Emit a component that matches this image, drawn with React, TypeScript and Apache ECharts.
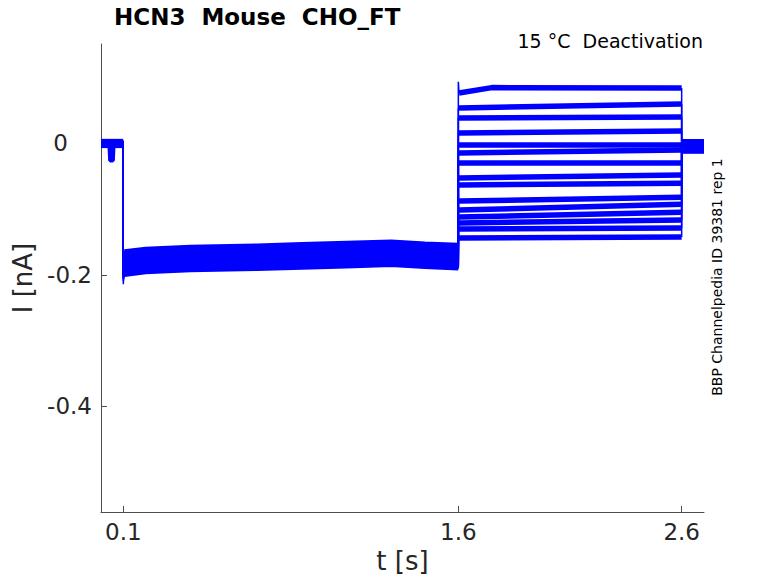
import React, { useEffect, useRef } from "react";
import * as echarts from "echarts";

// ---- data ----
const xTicks = [0.1, 1.6, 2.6];
const yTicks = [-0.4, -0.2, 0];

// baseline before the first step (t < 0.1), one value per sweep
const preLevels = [0.003, -0.002, 0.001, -0.004, 0.002, 0.004, -0.003, 0.0, -0.001, 0.003, -0.004, 0.001, -0.002, 0.002, 0.0];
// single sweep with a short dip near t = 0.04
const dipTrace = 3;
const dipTimes = [0.038, 0.041, 0.053, 0.056];
const dipValue = -0.026;
// capacitive transient at t = 0.1
const transientMin = [-0.214, -0.205, -0.2, -0.198, -0.21, -0.2, -0.202, -0.199, -0.207, -0.2, -0.198, -0.204, -0.2, -0.201, -0.199];

// holding segment (0.1 – 1.6 s): band centre over time plus per-sweep offsets
const holdTimes = [0.105, 0.2, 0.4, 0.7, 0.9, 1.1, 1.3, 1.45, 1.6];
const holdCenter = [-0.182, -0.178, -0.175, -0.173, -0.171, -0.169, -0.167, -0.17, -0.172];
const holdOffsets = [0.018, -0.006, 0.01, -0.016, 0.004, 0.014, -0.01, 0.006, -0.018, 0.012, -0.002, 0.0, -0.012, 0.016, -0.014];

// test segment (1.6 – 2.6 s): level of each sweep at its start and end
const stepStart = [0.0768, 0.054, 0.0388, 0.016, -0.0023, -0.0144, -0.0297, -0.0525, -0.0631, -0.0875, -0.1011, -0.1118, -0.1209, -0.13, -0.1437];
const stepEnd = [0.0844, 0.0601, 0.0403, 0.019, -0.0023, -0.0099, -0.0297, -0.0479, -0.0605, -0.0817, -0.0924, -0.1046, -0.1163, -0.1285, -0.1422];
const firstSweepSpike = 0.094;
const firstSweepPlateau = [1.75, 0.085];

// tail (2.6 – 2.7 s)
const tailLevels = [0.003, -0.004, -0.01, 0.0, -0.006, -0.012, 0.002, -0.008, -0.003, 0.001, -0.011, -0.005, -0.002, -0.009, 0.0];

const title = "HCN3  Mouse  CHO_FT";
const subtitle = "15 °C  Deactivation";
const sideNote = "BBP Channelpedia ID 39381 rep 1";

const holdAt = (i: number, k: number) => holdCenter[k] + holdOffsets[i];
const lastHold = holdTimes.length - 1;

function preSeg(i: number): number[][] {
  const pts: number[][] = [[0, preLevels[i]]];
  if (i === dipTrace) {
    pts.push([dipTimes[0], preLevels[i]], [dipTimes[1], dipValue], [dipTimes[2], dipValue], [dipTimes[3], preLevels[i]]);
  }
  pts.push([0.099, preLevels[i]]);
  return pts;
}
function jumpInSeg(i: number): number[][] {
  return [[0.099, preLevels[i]], [0.1, transientMin[i]], [holdTimes[0], holdAt(i, 0)]];
}
function holdSeg(i: number): number[][] {
  return holdTimes.map((t, k) => [t, holdAt(i, k)]);
}
function jumpStepSeg(i: number): number[][] {
  const top = i === 0 ? firstSweepSpike : stepStart[i];
  return [[holdTimes[lastHold], holdAt(i, lastHold)], [1.6, top], [1.603, stepStart[i]]];
}
function stepSeg(i: number): number[][] {
  const pts: number[][] = [[1.603, stepStart[i]]];
  if (i === 0) pts.push(firstSweepPlateau);
  pts.push([2.6, stepEnd[i]]);
  return pts;
}
function jumpTailSeg(i: number): number[][] {
  return [[2.6, stepEnd[i]], [2.6, tailLevels[i]]];
}
function tailSeg(i: number): number[][] {
  return [[2.6, tailLevels[i]], [2.7, tailLevels[i]]];
}

const FONT = "DejaVu Sans";
const AXIS_COLOR = "#4d4d4d";
const TEXT_COLOR = "#262626";
const TRACE = "#0000ff";

export default function App() {
  const ref = useRef<HTMLDivElement>(null);
  useEffect(() => {
    if (!ref.current) return;
    const chart = echarts.init(ref.current, null, { renderer: "svg" });
    const mk = (data: number[][], width: number) => ({
      type: "line" as const,
      data,
      showSymbol: false,
      symbol: "none",
      silent: true,
      emphasis: { disabled: true },
      lineStyle: { color: TRACE, width },
      z: 2,
    });
    const series: any[] = [];
    stepStart.forEach((_, i) => {
      series.push(mk(preSeg(i), 4));
      series.push(mk(jumpInSeg(i), 1.5));
      series.push(mk(holdSeg(i), 4));
      series.push(mk(jumpStepSeg(i), 1.5));
      series.push(mk(stepSeg(i), 5.5));
      series.push(mk(jumpTailSeg(i), 1.5));
      series.push(mk(tailSeg(i), 5));
    });
    chart.setOption({
      animation: false,
      backgroundColor: "#ffffff",
      grid: { left: 101, right: 74, top: 44, bottom: 71, containLabel: false },
      xAxis: {
        type: "value",
        min: 0,
        max: 2.7,
        name: "t [s]",
        nameLocation: "middle",
        nameGap: 36,
        nameTextStyle: { fontSize: 26, fontFamily: FONT, color: TEXT_COLOR },
        axisLine: { show: true, onZero: false, lineStyle: { color: AXIS_COLOR, width: 1 } },
        axisTick: { show: true, inside: true, length: 6, customValues: xTicks, lineStyle: { color: AXIS_COLOR } },
        axisLabel: {
          customValues: xTicks,
          fontSize: 23,
          fontFamily: FONT,
          color: TEXT_COLOR,
          margin: 8,
          formatter: (v: number) => String(v),
        },
        splitLine: { show: false },
      },
      yAxis: {
        type: "value",
        min: -0.5605,
        max: 0.1513,
        name: "I [nA]",
        nameLocation: "middle",
        nameGap: 58,
        nameTextStyle: { fontSize: 26, fontFamily: FONT, color: TEXT_COLOR },
        axisLine: { show: true, onZero: false, lineStyle: { color: AXIS_COLOR, width: 1 } },
        axisTick: { show: true, inside: true, length: 6, customValues: yTicks, lineStyle: { color: AXIS_COLOR } },
        axisLabel: {
          customValues: yTicks,
          fontSize: 23,
          fontFamily: FONT,
          color: TEXT_COLOR,
          margin: 9,
          formatter: (v: number) => (v === 0 ? "{z|0}" : String(v)),
          rich: {
            z: { fontSize: 23, fontFamily: FONT, color: TEXT_COLOR, padding: [0, 24, 0, 0] },
          },
        },
        splitLine: { show: false },
      },
      graphic: [
        {
          type: "text",
          x: 114,
          y: 17,
          style: {
            text: title,
            font: `bold 23px "${FONT}"`,
            fill: "#000000",
            textAlign: "left",
            textVerticalAlign: "middle",
          },
        },
        {
          type: "text",
          x: 703,
          y: 40.5,
          style: {
            text: subtitle,
            font: `19px "${FONT}"`,
            fill: "#000000",
            textAlign: "right",
            textVerticalAlign: "middle",
          },
        },
        {
          type: "text",
          x: 717,
          y: 277,
          rotation: Math.PI / 2,
          style: {
            text: sideNote,
            font: `14px "${FONT}"`,
            fill: "#000000",
            textAlign: "center",
            textVerticalAlign: "middle",
          },
        },
      ],
      series,
    });
    return () => chart.dispose();
  }, []);
  return (
    <div
      ref={ref}
      style={{ position: "absolute", left: 0, top: 0, width: 778, height: 583, background: "#fff" }}
    />
  );
}
